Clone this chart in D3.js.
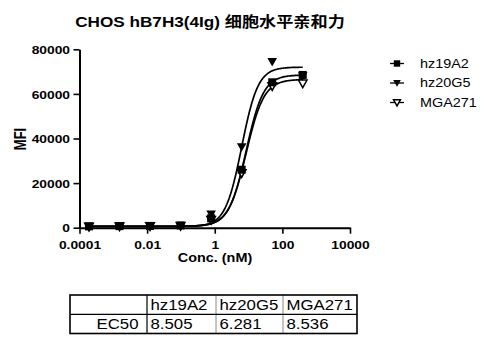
<!DOCTYPE html>
<html>
<head>
<meta charset="utf-8">
<script src="https://cdn.jsdelivr.net/npm/d3@7/dist/d3.min.js"></script>
<style>
  body { margin: 0; background: #fff; }
  svg { display: block; }
  text { font-family: Arial, "Liberation Sans", "Noto Sans CJK SC", sans-serif; fill: #000; }
</style>
</head>
<body>
<svg id="chart" width="484" height="342"></svg>
<script>
// Antibody concentrations (nM), 8-fold serial dilution from 400 nM
const concentrations = [0.00019073486328125, 0.00152587890625, 0.01220703125, 0.09765625, 0.78125, 6.25, 50, 400];

// Measured MFI per antibody
const seriesNames = ["hz19A2", "hz20G5", "MGA271"];
const mfiHz19A2 = [600, 700, 800, 1000, 4200, 26000, 65200, 68500];
const mfiHz20G5 = [500, 600, 700, 900, 6000, 36200, 74400, 68000];
const mfiMGA271 = [500, 600, 700, 800, 3500, 24500, 63500, 64700];

// Four-parameter logistic fit per antibody
const fitBottom = [600, 600, 600];
const fitTop = [68500, 72000, 66500];
const fitHill = [1.7, 1.8, 1.65];
const ec50 = [8.505, 6.281, 8.536];

// Axis ticks
const xTicks = [0.0001, 0.01, 1, 100, 10000];
const xTickLabels = ["0.0001", "0.01", "1", "100", "10000"];
const yTicks = [0, 20000, 40000, 60000, 80000];

const seriesValues = [mfiHz19A2, mfiHz20G5, mfiMGA271];
const markerKinds = ["square", "triangleFilled", "triangleOpen"];

const SX = 1.2; // horizontal text stretch
const svg = d3.select("#chart");
svg.append("rect").attr("width", 484).attr("height", 342).attr("fill", "#fff");

const x = d3.scaleLog().domain([1e-4, 1e4]).range([79.5, 350]);
const y = d3.scaleLinear().domain([0, 80000]).range([227.7, 49.3]);

// stretched text helper
function label(parent, tx, ty, str, opts) {
  const g = parent.append("g").attr("transform", `translate(${tx},${ty}) ${opts.rotate ? "rotate(-90) scale(1," + SX + ")" : "scale(" + SX + ",1)"}`);
  return g.append("text")
    .attr("text-anchor", opts.anchor || "start")
    .attr("font-size", opts.size)
    .attr("font-weight", opts.bold ? "bold" : "normal")
    .text(str);
}

// Title
label(svg, 210, 26.5, "CHOS hB7H3(4Ig) 细胞水平亲和力", { size: 14.3, bold: true, anchor: "middle" });

// Y axis
const yAxis = svg.append("g").attr("transform", "translate(79.5,0)")
  .call(d3.axisLeft(y).tickValues(yTicks).tickFormat(d3.format("d")).tickSize(6).tickSizeOuter(0).tickPadding(4));
yAxis.select(".domain").attr("stroke", "#000").attr("stroke-width", 2);
yAxis.selectAll(".tick line").attr("stroke", "#000").attr("stroke-width", 1.6);
yAxis.selectAll(".tick text")
  .attr("font-size", 11.5).attr("font-weight", "bold").attr("fill", "#000")
  .attr("font-family", "Arial, 'Liberation Sans', sans-serif")
  .attr("x", -9.5 / SX).attr("dy", "0.36em")
  .attr("transform", `scale(${SX},1)`);

// X axis
const xAxis = svg.append("g").attr("transform", "translate(0,227.7)")
  .call(d3.axisBottom(x).tickValues(xTicks).tickFormat((d, i) => xTickLabels[i]).tickSize(6).tickSizeOuter(0).tickPadding(7));
xAxis.select(".domain").attr("stroke", "#000").attr("stroke-width", 2);
xAxis.selectAll(".tick line").attr("stroke", "#000").attr("stroke-width", 1.6);
xAxis.selectAll(".tick text")
  .attr("font-size", 11.5).attr("font-weight", "bold").attr("fill", "#000")
  .attr("font-family", "Arial, 'Liberation Sans', sans-serif")
  .attr("transform", `scale(${SX},1)`)
  .attr("x", 0);

// Axis titles
label(svg, 215, 261.5, "Conc. (nM)", { size: 12, bold: true, anchor: "middle" });
label(svg, 25.5, 139, "MFI", { size: 13, bold: true, anchor: "middle", rotate: true });

// Fitted curves
function logistic(i, c) {
  return fitBottom[i] + (fitTop[i] - fitBottom[i]) / (1 + Math.pow(ec50[i] / c, fitHill[i]));
}
const lx0 = Math.log10(concentrations[0]);
const lx1 = Math.log10(concentrations[concentrations.length - 1]);
const curveX = d3.range(0, 201).map(k => Math.pow(10, lx0 + (lx1 - lx0) * k / 200));
const line = d3.line().x(d => x(d[0])).y(d => y(d[1])).curve(d3.curveLinear);
seriesNames.forEach((name, i) => {
  svg.append("path")
    .attr("d", line(curveX.map(c => [c, logistic(i, c)])))
    .attr("fill", "none").attr("stroke", "#000").attr("stroke-width", 1.7);
});

// Markers
function drawMarker(g, kind, cx, cy, s) {
  if (kind === "square") {
    g.append("rect").attr("x", cx - 4 * s).attr("y", cy - 4 * s).attr("width", 8 * s).attr("height", 8 * s).attr("fill", "#000");
  } else if (kind === "triangleFilled") {
    g.append("path").attr("d", `M${cx - 4.8 * s},${cy - 3.8 * s}L${cx + 4.8 * s},${cy - 3.8 * s}L${cx},${cy + 4.8 * s}Z`).attr("fill", "#000");
  } else {
    g.append("path").attr("d", `M${cx - 4.3 * s},${cy - 3.4 * s}L${cx + 4.3 * s},${cy - 3.4 * s}L${cx},${cy + 4.3 * s}Z`)
      .attr("fill", "#fff").attr("stroke", "#000").attr("stroke-width", 1.5);
  }
}
const markers = svg.append("g");
[2, 1, 0].forEach(i => {
  seriesValues[i].forEach((v, j) => drawMarker(markers, markerKinds[i], x(concentrations[j]), y(v), 1));
});

// Legend
const legend = svg.append("g");
const legendY = [63.5, 83, 102.5];
seriesNames.forEach((name, i) => {
  legend.append("line").attr("x1", 390).attr("x2", 404).attr("y1", legendY[i]).attr("y2", legendY[i])
    .attr("stroke", "#000").attr("stroke-width", 1.3);
  drawMarker(legend, markerKinds[i], 397, legendY[i], 0.8);
  label(legend, 420, legendY[i] + 4.3, name, { size: 12 });
});

// EC50 table
const colX = [70, 147, 216, 283, 357];
const rowY = [295, 314.3, 333.5];
const table = svg.append("g");
colX.slice(1, 4).forEach((cx, k) => {
  table.append("line").attr("x1", cx).attr("x2", cx).attr("y1", rowY[0]).attr("y2", rowY[2])
    .attr("stroke", k === 0 ? "#000" : "#888").attr("stroke-width", k === 0 ? 1.2 : 1);
});
table.append("line").attr("x1", colX[0]).attr("x2", colX[4]).attr("y1", rowY[1]).attr("y2", rowY[1])
  .attr("stroke", "#000").attr("stroke-width", 1.2);
table.append("rect").attr("x", colX[0]).attr("y", rowY[0]).attr("width", colX[4] - colX[0]).attr("height", rowY[2] - rowY[0])
  .attr("fill", "none").attr("stroke", "#000").attr("stroke-width", 1.6);
seriesNames.forEach((name, i) => {
  label(table, colX[i + 1] + 3.5, rowY[1] - 4.8, name, { size: 14 });
  label(table, colX[i + 1] + 3.5, rowY[2] - 5, ec50[i].toFixed(3), { size: 14 });
});
label(table, colX[1] - 8.5, rowY[2] - 5, "EC50", { size: 14, anchor: "end" });
</script>
</body>
</html>
